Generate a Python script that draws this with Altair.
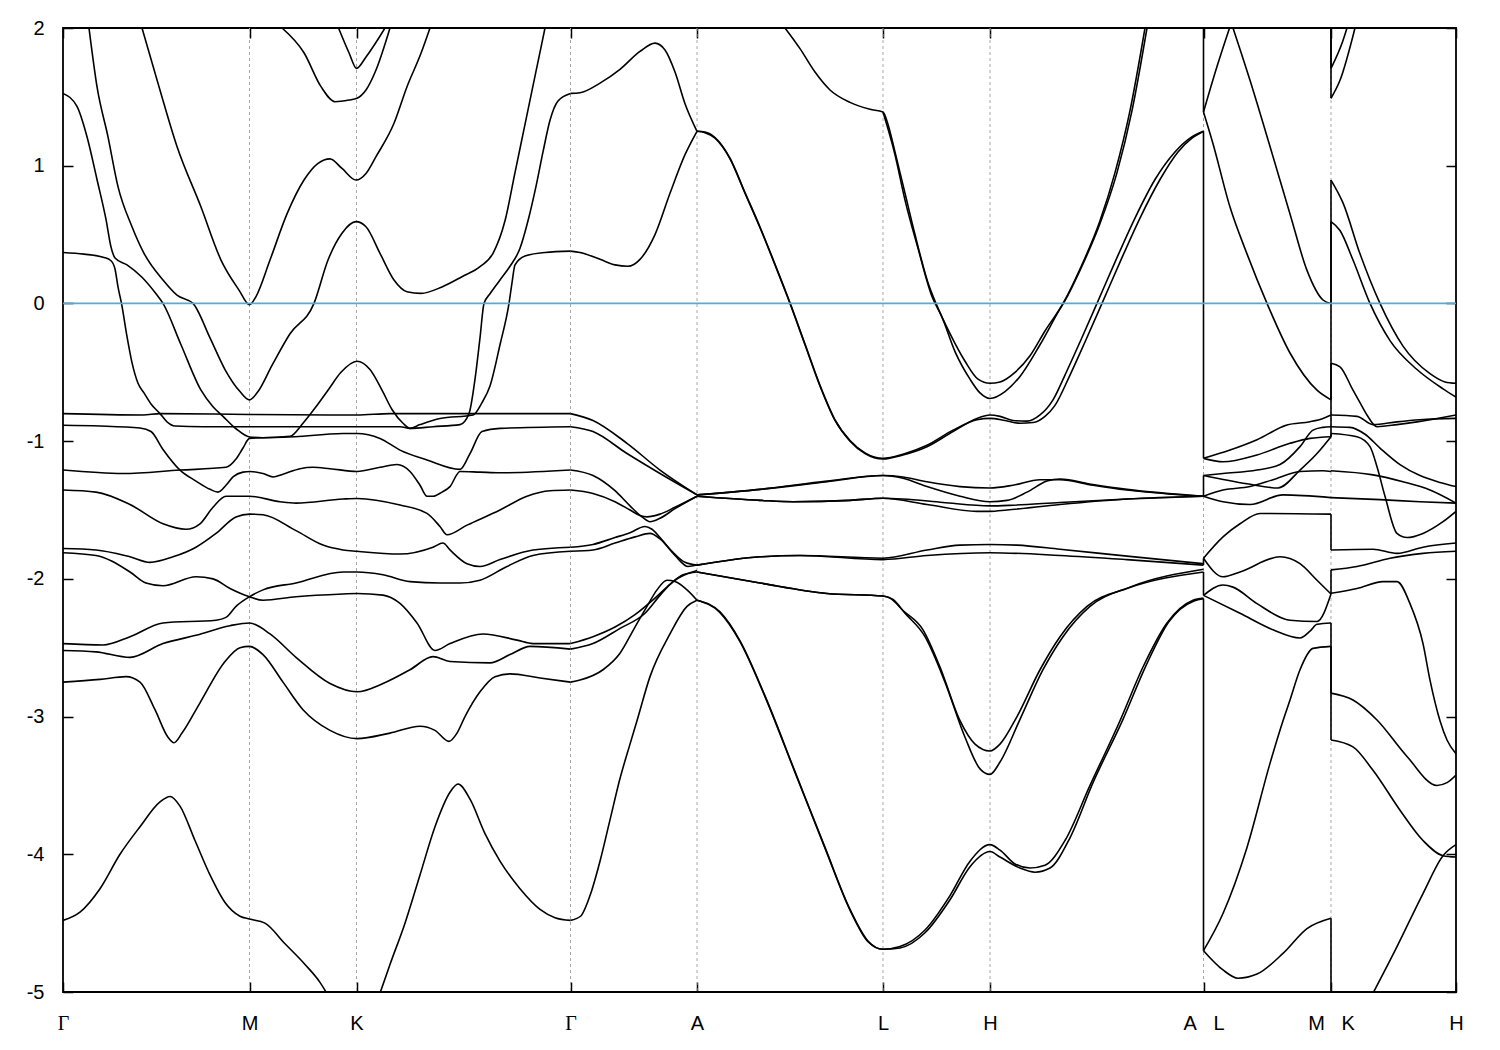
import altair as alt
import pandas as pd

# ---------------- axis data ----------------
TICK_K = [0.0, 1.865, 2.935, 5.075, 6.34, 8.20, 9.27, 11.405, 12.68, 13.93]
NB = "\u00a0"
TICK_LABELS = ["Γ", "M", "K", "Γ", "A", "L", "H", "A" + NB * 3 + "L", "M" + NB * 3 + "K", "H"]
Y_TICKS = [-5, -4, -3, -2, -1, 0, 1, 2]
E_FERMI = [0.0]
K_MAX = 13.93

# ---------------- bands: Gamma - M - K - Gamma ----------------
SEG_GMKG = [
    [(0, 1.525), (0.14, 1.43), (0.24, 1.21), (0.34, 0.90), (0.43, 0.61), (0.48, 0.41), (0.52, 0.33),
     (0.64, 0.28), (0.79, 0.19), (0.93, 0.07), (1.00, 0.0), (1.18, -0.30), (1.38, -0.63), (1.50, -0.75),
     (1.60, -0.82), (1.73, -0.91), (1.865, -0.97), (2.00, -0.975), (2.27, -0.965), (2.40, -0.87),
     (2.52, -0.76), (2.65, -0.63), (2.78, -0.50), (2.94, -0.42), (3.07, -0.48), (3.19, -0.63),
     (3.29, -0.77), (3.40, -0.87), (3.47, -0.907), (3.57, -0.88), (3.77, -0.835), (4.10, -0.81),
     (4.19, -0.72), (4.27, -0.60), (4.37, -0.30), (4.46, 0.0), (4.49, 0.15), (4.52, 0.28),
     (4.62, 0.345), (4.82, 0.37), (5.075, 0.38)],
    [(0, 0.37), (0.21, 0.358), (0.41, 0.334), (0.48, 0.31), (0.52, 0.25), (0.55, 0.12), (0.585, 0.0),
     (0.64, -0.24), (0.69, -0.43), (0.75, -0.58), (0.81, -0.65), (0.88, -0.73), (0.97, -0.80),
     (1.04, -0.86), (1.12, -0.89), (1.40, -0.895), (1.865, -0.895), (2.40, -0.895), (2.94, -0.895),
     (3.37, -0.895), (3.47, -0.907), (3.70, -0.895), (3.97, -0.88), (4.06, -0.80), (4.12, -0.55),
     (4.17, -0.25), (4.21, 0.0), (4.27, 0.07), (4.37, 0.17), (4.47, 0.27), (4.57, 0.40), (4.65, 0.60),
     (4.73, 0.85), (4.80, 1.10), (4.87, 1.33), (4.95, 1.47), (5.075, 1.525)],
    [(0.26, 2.0), (0.34, 1.574), (0.45, 1.21), (0.55, 0.848), (0.69, 0.557), (0.81, 0.364), (1.00, 0.17),
     (1.14, 0.06), (1.30, 0.0), (1.47, -0.25), (1.62, -0.48), (1.77, -0.64), (1.865, -0.70), (1.95, -0.64),
     (2.09, -0.45), (2.27, -0.22), (2.51, 0.0), (2.65, 0.315), (2.79, 0.51), (2.93, 0.594), (3.03, 0.557),
     (3.17, 0.364), (3.31, 0.17), (3.44, 0.085), (3.58, 0.073), (3.79, 0.12), (3.99, 0.194), (4.17, 0.267),
     (4.30, 0.364), (4.42, 0.60), (4.52, 0.95), (4.62, 1.30), (4.72, 1.65), (4.82, 2.0)],
    [(0.79, 2.0), (0.96, 1.574), (1.14, 1.14), (1.38, 0.70), (1.58, 0.315), (1.76, 0.097), (1.865, -0.01),
     (1.93, 0.05), (2.07, 0.315), (2.24, 0.65), (2.41, 0.896), (2.55, 1.017), (2.67, 1.05), (2.79, 0.98),
     (2.93, 0.896), (3.03, 0.944), (3.13, 1.066), (3.31, 1.308), (3.44, 1.574), (3.58, 1.816), (3.67, 2.0)],
    [(2.19, 2.0), (2.41, 1.82), (2.58, 1.574), (2.72, 1.465), (2.86, 1.477), (2.94, 1.49), (3.03, 1.55),
     (3.13, 1.695), (3.27, 2.0)],
    [(2.755, 2.0), (2.86, 1.82), (2.935, 1.707), (3.03, 1.79), (3.22, 2.0)],
    [(0, -0.80), (0.80, -0.81), (0.97, -0.80), (1.865, -0.806), (2.80, -0.81), (2.94, -0.81), (3.27, -0.80),
     (3.77, -0.80), (4.10, -0.80), (4.30, -0.80), (5.075, -0.80)],
    [(0, -0.885), (0.37, -0.89), (0.77, -0.905), (0.88, -0.93), (1.00, -1.06), (1.17, -1.21), (1.33, -1.29),
     (1.47, -1.35), (1.55, -1.37), (1.63, -1.32), (1.70, -1.26), (1.80, -1.225), (1.87, -1.22), (2.00, -1.235),
     (2.10, -1.26), (2.20, -1.24), (2.37, -1.20), (2.50, -1.19), (2.67, -1.20), (2.94, -1.22), (3.17, -1.19),
     (3.34, -1.17), (3.47, -1.22), (3.57, -1.32), (3.64, -1.40), (3.70, -1.40), (3.79, -1.37), (3.87, -1.33),
     (3.97, -1.22), (4.17, -1.225), (4.37, -1.23), (5.075, -1.21)],
    [(0, -1.21), (0.60, -1.235), (1.17, -1.21), (1.63, -1.19), (1.73, -1.13), (1.80, -1.05), (1.865, -0.98),
     (2.00, -0.975), (2.20, -0.972), (2.80, -0.945), (2.94, -0.944), (3.17, -0.98), (3.37, -1.065),
     (3.64, -1.137), (3.97, -1.205), (4.07, -1.09), (4.19, -0.93), (4.37, -0.907), (5.075, -0.895)],
    [(0, -1.355), (0.33, -1.37), (0.67, -1.46), (1.00, -1.60), (1.23, -1.64), (1.37, -1.60), (1.50, -1.48),
     (1.63, -1.40), (1.865, -1.40), (2.17, -1.44), (2.33, -1.45), (2.80, -1.42), (2.94, -1.416), (3.37, -1.464),
     (3.64, -1.525), (3.77, -1.62), (3.84, -1.68), (4.04, -1.61), (4.37, -1.50), (4.64, -1.40), (4.87, -1.36),
     (5.075, -1.355)],
    [(0, -1.78), (0.33, -1.79), (0.67, -1.84), (0.87, -1.88), (1.10, -1.84), (1.33, -1.77), (1.53, -1.67),
     (1.73, -1.55), (1.865, -1.53), (2.00, -1.535), (2.33, -1.65), (2.60, -1.755), (2.80, -1.79), (2.94, -1.80),
     (3.37, -1.82), (3.70, -1.77), (3.80, -1.74), (3.87, -1.79), (4.04, -1.89), (4.17, -1.91), (4.37, -1.86),
     (4.70, -1.79), (5.075, -1.77)],
    [(0, -1.81), (0.33, -1.83), (0.67, -1.95), (0.83, -2.03), (1.00, -2.05), (1.33, -1.985), (1.50, -2.0),
     (1.67, -2.07), (1.865, -2.13), (2.00, -2.155), (2.33, -2.13), (2.80, -2.11), (2.94, -2.106), (3.20, -2.118),
     (3.37, -2.178), (3.54, -2.32), (3.72, -2.52), (3.87, -2.47), (4.20, -2.40), (4.54, -2.445), (4.70, -2.47),
     (5.075, -2.47)],
    [(0, -2.47), (0.40, -2.48), (0.67, -2.42), (1.00, -2.32), (1.53, -2.30), (1.63, -2.28), (1.73, -2.20),
     (1.865, -2.13), (2.00, -2.08), (2.33, -2.03), (2.80, -1.95), (2.94, -1.95), (3.20, -1.97), (3.47, -2.02),
     (3.77, -2.03), (3.97, -2.03), (4.17, -2.01), (4.44, -1.91), (4.70, -1.83), (5.075, -1.80)],
    [(0, -2.52), (0.33, -2.53), (0.67, -2.57), (1.00, -2.47), (1.33, -2.41), (1.67, -2.34), (1.865, -2.32),
     (2.07, -2.40), (2.33, -2.57), (2.67, -2.76), (2.94, -2.82), (3.20, -2.76), (3.47, -2.66), (3.70, -2.565),
     (3.87, -2.60), (4.27, -2.61), (4.47, -2.55), (4.67, -2.49), (5.075, -2.51)],
    [(0, -2.75), (0.37, -2.73), (0.63, -2.71), (0.77, -2.75), (0.92, -2.95), (1.05, -3.15), (1.11, -3.19),
     (1.19, -3.12), (1.37, -2.90), (1.62, -2.60), (1.77, -2.50), (1.865, -2.49), (2.00, -2.55), (2.20, -2.75),
     (2.40, -2.95), (2.67, -3.10), (2.94, -3.16), (3.27, -3.12), (3.57, -3.07), (3.72, -3.10), (3.86, -3.18),
     (3.94, -3.12), (4.02, -3.0), (4.17, -2.82), (4.32, -2.71), (4.47, -2.69), (4.77, -2.72), (5.075, -2.75)],
    [(0, -4.48), (0.17, -4.42), (0.37, -4.25), (0.57, -4.0), (0.77, -3.8), (0.97, -3.62), (1.07, -3.58),
     (1.17, -3.65), (1.32, -3.9), (1.47, -4.15), (1.62, -4.35), (1.77, -4.45), (1.865, -4.47), (2.02, -4.5),
     (2.22, -4.65), (2.42, -4.8), (2.57, -4.93), (2.67, -5.05)],
    [(3.15, -5.05), (3.27, -4.8), (3.42, -4.5), (3.57, -4.15), (3.72, -3.8), (3.87, -3.55), (3.95, -3.49),
     (4.07, -3.6), (4.22, -3.85), (4.37, -4.05), (4.57, -4.25), (4.77, -4.4), (4.92, -4.46), (5.075, -4.48)],
]

# ---------------- bands: Gamma - A ----------------
SEG_GA = [
    [(5.075, 1.525), (5.17, 1.53), (5.37, 1.60), (5.57, 1.70), (5.77, 1.83), (5.92, 1.89), (6.02, 1.84),
     (6.12, 1.68), (6.22, 1.45), (6.34, 1.25)],
    [(5.075, 0.38), (5.17, 0.37), (5.37, 0.32), (5.52, 0.28), (5.65, 0.27), (5.77, 0.32), (5.92, 0.50),
     (6.07, 0.80), (6.22, 1.08), (6.34, 1.25)],
    [(5.075, -0.80), (5.30, -0.85), (5.64, -1.016), (5.97, -1.21), (6.34, -1.39)],
    [(5.075, -0.895), (5.30, -0.93), (5.64, -1.09), (5.97, -1.235), (6.34, -1.39)],
    [(5.075, -1.21), (5.30, -1.25), (5.52, -1.36), (5.67, -1.47), (5.79, -1.55), (5.87, -1.585),
     (5.97, -1.56), (6.12, -1.49), (6.34, -1.40)],
    [(5.075, -1.355), (5.30, -1.38), (5.52, -1.44), (5.67, -1.50), (5.77, -1.54), (5.84, -1.55),
     (5.97, -1.53), (6.12, -1.48), (6.34, -1.40)],
    [(5.075, -1.77), (5.30, -1.75), (5.52, -1.70), (5.67, -1.665), (5.82, -1.62), (5.89, -1.64),
     (5.97, -1.70), (6.09, -1.80), (6.22, -1.88), (6.34, -1.90)],
    [(5.075, -1.80), (5.30, -1.79), (5.52, -1.74), (5.72, -1.695), (5.87, -1.67), (5.97, -1.71),
     (6.12, -1.83), (6.25, -1.91), (6.34, -1.90)],
    [(5.075, -2.47), (5.30, -2.42), (5.52, -2.35), (5.72, -2.26), (5.92, -2.14), (6.07, -2.04),
     (6.20, -1.97), (6.34, -1.95)],
    [(5.075, -2.51), (5.30, -2.47), (5.57, -2.36), (5.82, -2.25), (5.97, -2.12), (6.10, -2.02),
     (6.22, -1.97), (6.34, -1.94)],
    [(5.075, -2.75), (5.17, -2.735), (5.40, -2.66), (5.57, -2.54), (5.72, -2.35), (5.84, -2.20),
     (5.94, -2.08), (6.04, -2.01), (6.12, -2.02), (6.24, -2.08), (6.34, -2.155)],
    [(5.075, -4.48), (5.175, -4.45), (5.27, -4.30), (5.37, -4.05), (5.47, -3.75), (5.57, -3.45),
     (5.67, -3.20), (5.74, -3.03), (5.87, -2.71), (6.07, -2.40), (6.24, -2.20), (6.34, -2.155)],
]

# ---------------- bands: A - L - H - A ----------------
SEG_ALHA = [
    [(6.34, 1.25), (6.42, 1.24), (6.52, 1.20), (6.67, 1.05), (6.82, 0.80), (6.97, 0.55), (7.12, 0.28),
     (7.27, 0.0), (7.42, -0.30), (7.57, -0.60), (7.72, -0.85), (7.87, -1.00), (8.02, -1.09), (8.20, -1.13),
     (8.40, -1.10), (8.64, -1.04), (8.90, -0.93), (9.14, -0.835), (9.27, -0.81), (9.37, -0.82), (9.50, -0.85),
     (9.64, -0.855), (9.77, -0.81), (9.90, -0.70), (10.02, -0.52), (10.17, -0.28), (10.34, 0.0), (10.52, 0.30),
     (10.72, 0.62), (10.92, 0.90), (11.12, 1.10), (11.27, 1.20), (11.405, 1.25)],
    [(6.34, 1.25), (6.42, 1.245), (6.52, 1.205), (6.67, 1.055), (6.82, 0.805), (6.97, 0.555), (7.12, 0.285),
     (7.27, 0.005), (7.42, -0.295), (7.57, -0.595), (7.72, -0.845), (7.87, -0.995), (8.02, -1.085),
     (8.20, -1.125), (8.40, -1.095), (8.64, -1.03), (8.90, -0.92), (9.14, -0.845), (9.27, -0.835),
     (9.42, -0.85), (9.57, -0.87), (9.70, -0.865), (9.82, -0.82), (9.92, -0.74), (10.07, -0.52),
     (10.22, -0.28), (10.39, 0.0), (10.57, 0.30), (10.77, 0.62), (10.97, 0.90), (11.15, 1.10), (11.29, 1.20),
     (11.405, 1.25)],
    [(7.22, 2.0), (7.37, 1.85), (7.52, 1.68), (7.67, 1.55), (7.87, 1.46), (8.07, 1.41), (8.20, 1.39),
     (8.25, 1.30), (8.32, 1.10), (8.42, 0.80), (8.52, 0.50), (8.65, 0.15), (8.73, 0.0), (8.87, -0.22),
     (9.02, -0.42), (9.15, -0.55), (9.27, -0.58), (9.37, -0.57), (9.52, -0.50), (9.67, -0.38), (9.82, -0.20),
     (10.00, 0.0), (10.17, 0.25), (10.37, 0.60), (10.52, 0.95), (10.67, 1.40), (10.82, 2.0)],
    [(8.20, 1.39), (8.32, 1.08), (8.42, 0.75), (8.55, 0.40), (8.69, 0.05), (8.79, -0.10), (8.92, -0.35),
     (9.07, -0.55), (9.17, -0.65), (9.27, -0.69), (9.42, -0.64), (9.57, -0.53), (9.77, -0.30), (9.97, -0.04),
     (10.02, 0.02), (10.17, 0.24), (10.37, 0.58), (10.54, 0.95), (10.69, 1.40), (10.84, 2.0)],
    [(6.34, -1.39), (6.97, -1.35), (7.64, -1.295), (8.20, -1.25), (8.40, -1.26), (8.64, -1.295), (8.97, -1.33),
     (9.27, -1.34), (9.50, -1.32), (9.77, -1.28), (9.97, -1.28), (10.30, -1.32), (10.64, -1.355),
     (11.405, -1.40)],
    [(6.34, -1.39), (6.97, -1.35), (7.64, -1.29), (8.20, -1.25), (8.40, -1.27), (8.64, -1.33), (8.97, -1.40),
     (9.27, -1.44), (9.44, -1.43), (9.64, -1.37), (9.84, -1.29), (9.97, -1.275), (10.30, -1.315),
     (10.64, -1.35), (11.405, -1.40)],
    [(6.34, -1.40), (6.97, -1.43), (7.30, -1.44), (7.87, -1.43), (8.20, -1.415), (8.40, -1.42), (8.80, -1.445),
     (9.27, -1.47), (9.50, -1.465), (9.97, -1.445), (10.64, -1.42), (11.405, -1.40)],
    [(6.34, -1.40), (6.97, -1.43), (7.30, -1.44), (7.87, -1.43), (8.20, -1.415), (8.64, -1.46), (9.14, -1.51),
     (9.27, -1.51), (9.44, -1.50), (9.97, -1.46), (10.64, -1.42), (11.405, -1.40)],
    [(6.34, -1.90), (6.97, -1.84), (7.37, -1.83), (8.20, -1.85), (8.64, -1.79), (8.97, -1.755), (9.27, -1.75),
     (9.54, -1.755), (9.97, -1.785), (10.64, -1.835), (11.405, -1.89)],
    [(6.34, -1.90), (6.97, -1.84), (7.37, -1.83), (8.20, -1.86), (8.64, -1.83), (9.27, -1.81), (9.97, -1.83),
     (10.64, -1.86), (11.405, -1.90)],
    [(6.34, -1.95), (6.97, -2.03), (7.64, -2.106), (8.20, -2.125), (8.27, -2.14), (8.40, -2.23), (8.60, -2.37),
     (8.77, -2.64), (8.97, -3.03), (9.12, -3.20), (9.27, -3.25), (9.37, -3.20), (9.54, -3.00), (9.77, -2.66),
     (9.97, -2.42), (10.24, -2.20), (10.64, -2.07), (11.405, -1.95)],
    [(6.34, -1.95), (6.97, -2.03), (7.64, -2.106), (8.20, -2.125), (8.30, -2.15), (8.42, -2.25), (8.62, -2.42),
     (8.82, -2.75), (9.02, -3.15), (9.17, -3.38), (9.27, -3.42), (9.37, -3.33), (9.57, -3.02), (9.80, -2.66),
     (10.00, -2.42), (10.27, -2.20), (10.67, -2.06), (11.405, -1.93)],
    [(6.34, -2.155), (6.57, -2.24), (6.77, -2.45), (7.02, -2.85), (7.32, -3.40), (7.62, -3.95), (7.87, -4.40),
     (8.05, -4.63), (8.20, -4.69), (8.37, -4.67), (8.62, -4.55), (8.87, -4.30), (9.07, -4.05), (9.27, -3.93),
     (9.37, -3.97), (9.52, -4.07), (9.67, -4.10), (9.82, -4.08), (10.02, -3.90), (10.27, -3.50), (10.57, -3.03),
     (10.80, -2.64), (11.04, -2.32), (11.30, -2.155), (11.405, -2.14)],
    [(6.34, -2.155), (6.57, -2.245), (6.77, -2.455), (7.02, -2.855), (7.32, -3.405), (7.62, -3.955),
     (7.87, -4.405), (8.05, -4.635), (8.20, -4.69), (8.37, -4.68), (8.62, -4.57), (8.87, -4.33), (9.07, -4.09),
     (9.27, -3.98), (9.37, -4.02), (9.57, -4.10), (9.72, -4.13), (9.87, -4.10), (10.07, -3.88), (10.30, -3.48),
     (10.60, -3.02), (10.83, -2.63), (11.06, -2.31), (11.31, -2.16), (11.405, -2.145)],
]

# ---------------- bands: L - M ----------------
SEG_LM = [
    [(11.405, 1.39), (11.54, 1.72), (11.67, 2.01)],
    [(11.405, 1.39), (11.50, 1.16), (11.67, 0.70), (11.84, 0.36), (12.04, 0.0), (12.27, -0.36), (12.54, -0.63),
     (12.68, -0.70)],
    [(11.70, 2.0), (11.87, 1.62), (12.07, 1.14), (12.27, 0.65), (12.44, 0.24), (12.60, 0.025), (12.68, 0.0)],
    [(11.405, -1.125), (11.60, -1.15), (11.94, -1.10), (12.27, -1.016), (12.47, -0.98), (12.68, -0.968)],
    [(11.405, -1.125), (11.67, -1.065), (11.94, -0.99), (12.24, -0.883), (12.47, -0.859), (12.60, -0.835),
     (12.68, -0.81)],
    [(11.405, -1.25), (11.60, -1.235), (11.94, -1.21), (12.17, -1.17), (12.37, -1.04), (12.50, -0.92),
     (12.60, -0.90), (12.68, -0.895)],
    [(11.405, -1.25), (11.84, -1.31), (12.15, -1.34), (12.37, -1.21), (12.54, -1.09), (12.68, -0.968)],
    [(11.405, -1.40), (11.60, -1.355), (11.87, -1.33), (12.10, -1.28), (12.37, -1.22), (12.60, -1.215),
     (12.68, -1.22)],
    [(11.405, -1.40), (11.60, -1.44), (11.87, -1.46), (12.20, -1.39), (12.68, -1.41)],
    [(11.405, -1.85), (11.60, -1.695), (11.77, -1.60), (11.97, -1.525), (12.68, -1.53)],
    [(11.405, -1.85), (11.60, -1.985), (11.77, -1.95), (12.17, -1.84), (12.37, -1.89), (12.54, -2.01),
     (12.68, -2.11)],
    [(11.405, -2.12), (11.60, -2.045), (11.70, -2.06), (11.94, -2.18), (12.27, -2.30), (12.54, -2.31),
     (12.68, -2.11)],
    [(11.405, -2.12), (11.77, -2.25), (12.10, -2.37), (12.37, -2.43), (12.47, -2.38), (12.54, -2.33),
     (12.68, -2.32)],
    [(11.405, -4.70), (11.60, -4.43), (11.84, -3.95), (12.07, -3.34), (12.20, -3.03), (12.27, -2.88),
     (12.37, -2.66), (12.50, -2.505), (12.68, -2.49)],
    [(11.405, -4.70), (11.60, -4.84), (11.75, -4.90), (11.94, -4.87), (12.20, -4.72), (12.44, -4.54),
     (12.68, -4.465)],
]

# ---------------- bands: K - H ----------------
SEG_KH = [
    [(12.68, 1.707), (12.80, 1.91), (12.84, 2.0)],
    [(12.68, 1.49), (12.77, 1.62), (12.92, 2.0)],
    [(12.68, 0.896), (12.80, 0.73), (12.97, 0.36), (13.07, 0.17), (13.17, 0.0), (13.40, -0.31), (13.67, -0.51),
     (13.82, -0.57), (13.93, -0.58)],
    [(12.68, 0.594), (12.77, 0.53), (12.90, 0.315), (13.07, 0.0), (13.27, -0.27), (13.54, -0.48),
     (13.80, -0.62), (13.93, -0.68)],
    [(12.68, -0.435), (12.77, -0.46), (12.90, -0.63), (12.97, -0.72), (13.04, -0.81), (13.14, -0.895),
     (13.34, -0.88), (13.54, -0.86), (13.93, -0.81)],
    [(12.68, -0.81), (12.94, -0.82), (13.10, -0.88), (13.34, -0.86), (13.57, -0.845), (13.93, -0.835)],
    [(12.68, -0.895), (12.87, -0.90), (13.02, -0.95), (13.17, -1.05), (13.37, -1.17), (13.57, -1.25),
     (13.77, -1.30), (13.93, -1.33)],
    [(12.68, -0.944), (12.94, -0.968), (13.07, -1.04), (13.14, -1.186), (13.22, -1.40), (13.34, -1.67),
     (13.44, -1.70), (13.60, -1.67), (13.80, -1.585), (13.93, -1.51)],
    [(12.68, -1.215), (13.10, -1.245), (13.40, -1.295), (13.67, -1.355), (13.93, -1.45)],
    [(12.68, -1.41), (13.17, -1.425), (13.57, -1.44), (13.93, -1.45)],
    [(12.68, -1.79), (13.10, -1.785), (13.34, -1.815), (13.60, -1.77), (13.93, -1.74)],
    [(12.68, -1.935), (12.94, -1.91), (13.27, -1.85), (13.60, -1.815), (13.93, -1.80)],
    [(12.68, -2.105), (12.94, -2.07), (13.20, -2.02), (13.34, -2.02), (13.47, -2.18), (13.60, -2.47),
     (13.67, -2.735), (13.77, -3.03), (13.84, -3.17), (13.93, -3.27)],
    [(12.68, -2.83), (12.90, -2.88), (13.14, -3.025), (13.44, -3.29), (13.74, -3.50), (13.84, -3.48),
     (13.93, -3.425)],
    [(12.68, -3.17), (12.90, -3.22), (13.10, -3.39), (13.37, -3.68), (13.60, -3.90), (13.80, -4.01),
     (13.93, -4.02)],
    [(13.07, -5.05), (13.34, -4.67), (13.60, -4.285), (13.80, -4.01), (13.93, -3.93)],
]

# ---------------- discontinuities (same k, band n on each side) ----------------
JUMP_AL_K = 11.405
JUMP_AL_PAIRS = [(-2.145, -4.70), (-1.95, -2.12), (-1.90, -1.85), (-1.40, -1.40), (-1.40, -1.25),
                 (1.25, -1.125), (2.5, 1.39)]
JUMP_MK_K = 12.68
JUMP_MK_PAIRS = [(-4.465, -5.5), (-2.49, -3.17), (-2.32, -2.83), (-2.11, -2.105), (-2.11, -1.935),
                 (-1.53, -1.79), (-1.41, -1.41), (-1.22, -1.215), (-0.968, -0.944), (-0.968, -0.895),
                 (-0.895, -0.81), (-0.81, -0.435), (-0.70, 0.594), (0.0, 0.896), (2.5, 1.49), (2.5, 1.707)]

# ---------------- build tables ----------------
rows = []
for sname, seg in [("gmkg", SEG_GMKG), ("ga", SEG_GA), ("alha", SEG_ALHA), ("lm", SEG_LM), ("kh", SEG_KH)]:
    for ci, curve in enumerate(seg):
        for i, (k, e) in enumerate(curve):
            rows.append({"id": f"{sname}{ci}", "k": k, "E": e, "i": i})
bands = pd.DataFrame(rows)

jrows = []
for jname, kk, pairs in [("al", JUMP_AL_K, JUMP_AL_PAIRS), ("mk", JUMP_MK_K, JUMP_MK_PAIRS)]:
    for pi, (e1, e2) in enumerate(pairs):
        jrows.append({"id": f"{jname}{pi}", "k": kk, "E": e1, "i": 0})
        jrows.append({"id": f"{jname}{pi}", "k": kk, "E": e2, "i": 1})
jumps = pd.DataFrame(jrows)

grid_df = pd.DataFrame({"k": [k for k in TICK_K if 0 < k < K_MAX]})
zero_df = pd.DataFrame({"E": E_FERMI})

xscale = alt.Scale(domain=[0, K_MAX], nice=False, zero=False)
yscale = alt.Scale(domain=[-5, 2], nice=False, zero=False)

label_expr = "''"
for k, lab in reversed(list(zip(TICK_K, TICK_LABELS))):
    label_expr = f"abs(datum.value - {k}) < 0.001 ? '{lab}' : ({label_expr})"

FONT = "Liberation Sans"
common = dict(tickSize=10, offset=-10, domain=False, grid=False, tickColor="black", tickWidth=1.5,
              title=None)

x_bottom = alt.Axis(values=TICK_K, labelExpr=label_expr, labelFontSize=20,
                    labelFont={"condition": {"test": "datum.value == 0 || abs(datum.value - 5.075) < 0.001",
                                             "value": "Liberation Serif"}, "value": FONT},
                    labelColor="black", labelPadding=21, labelAngle=0, labelFlush=False,
                    labelOverlap=False, labelBound=False, orient="bottom", **common)
y_left = alt.Axis(values=Y_TICKS,
                  labelExpr="datum.value < 0 ? '-' + format(-datum.value, 'd') : format(datum.value, 'd')",
                  labelFontSize=20, labelFont=FONT, labelColor="black", labelPadding=19,
                  labelOverlap=False, orient="left", **common)
x_top = alt.Axis(values=TICK_K, labels=False, orient="top", **common)
y_right = alt.Axis(values=Y_TICKS, labels=False, orient="right", **common)

grid = alt.Chart(grid_df).mark_rule(color="#a8a8a8", strokeWidth=1, strokeDash=[3, 3]).encode(
    x=alt.X("k:Q", scale=xscale, axis=None))

lines = alt.Chart(bands).mark_line(color="black", strokeWidth=1.6, clip=True,
                                   interpolate="monotone").encode(
    x=alt.X("k:Q", scale=xscale, axis=x_bottom),
    y=alt.Y("E:Q", scale=yscale, axis=y_left),
    detail="id:N", order="i:Q")

jump_lines = alt.Chart(jumps).mark_line(color="black", strokeWidth=1.6, clip=True).encode(
    x=alt.X("k:Q", scale=xscale, axis=x_top),
    y=alt.Y("E:Q", scale=yscale, axis=y_right),
    detail="id:N", order="i:Q")

zero = alt.Chart(zero_df).mark_rule(color="#4aaee6", strokeWidth=1.8).encode(
    y=alt.Y("E:Q", scale=yscale, axis=None))

chart = alt.layer(grid, lines, jump_lines, zero).resolve_axis(
    x="independent", y="independent"
).properties(
    width=1393, height=964,
    autosize=alt.AutoSizeParams(type="none"),
    padding={"left": 55, "top": 20, "right": 36, "bottom": 50},
).configure_view(stroke="black", strokeWidth=1.8)

chart.save("out.html", embed_options={"renderer": "svg", "actions": False})
